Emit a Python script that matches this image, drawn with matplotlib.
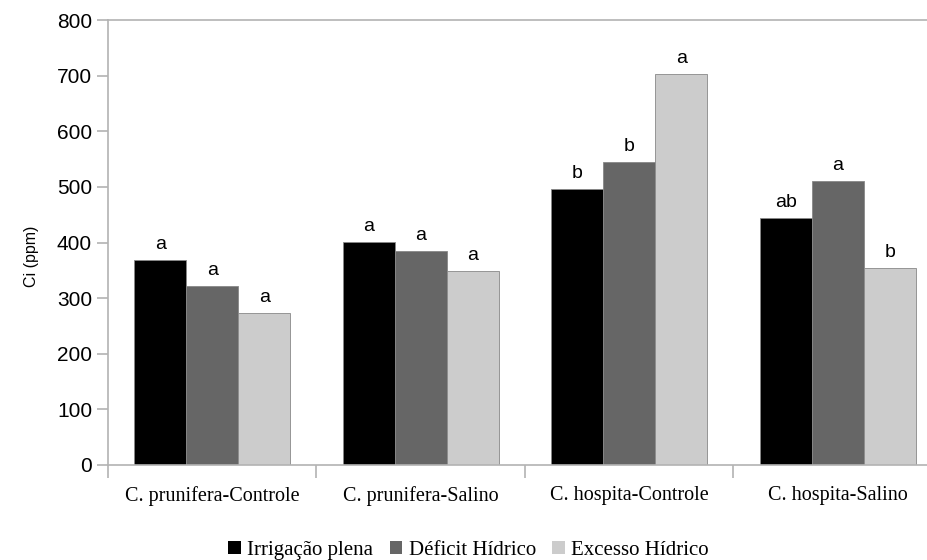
import matplotlib.pyplot as plt
import numpy as np

categorias = ["C. prunifera-Controle", "C. prunifera-Salino", "C. hospita-Controle", "C. hospita-Salino"]
tratamentos = ["Irrigação plena", "Déficit Hídrico", "Excesso Hídrico"]
irrigacao = [369, 401, 496, 444]
deficit = [322, 385, 545, 511]
excesso = [273, 349, 703, 354]
letras_irrigacao = ["a", "a", "b", "ab"]
letras_deficit = ["a", "a", "b", "a"]
letras_excesso = ["a", "a", "a", "b"]

cores = ["#000000", "#666666", "#cccccc"]
series = [irrigacao, deficit, excesso]
letras = [letras_irrigacao, letras_deficit, letras_excesso]

fig = plt.figure(figsize=(9.28, 5.6), dpi=100)
ax = fig.add_axes([108/928, 95/560, 834/928, 445/560])

x = np.arange(len(categorias))
w = 0.249
for i in range(3):
    pos = x + (i - 1) * w
    ax.bar(pos, series[i], w, color=cores[i], edgecolor="#888888", linewidth=0.6,
           label=tratamentos[i], zorder=2)
    for xp, v, t in zip(pos, series[i], letras[i]):
        ax.text(xp, v + 12, t, ha="center", va="bottom", fontsize=14,
                family="Liberation Sans")

ax.set_xlim(-0.5, 3.5)
ax.set_ylim(0, 800)
ax.set_yticks(range(0, 801, 100))
ax.set_xticks(x)
ax.set_xticklabels(categorias, family="Liberation Serif", fontsize=14.5)
ax.set_xticks(np.arange(-0.5, 3.6, 1), minor=True)
ax.tick_params(axis="x", which="major", length=0, pad=15)
ax.tick_params(axis="x", which="minor", length=9, color="#b3b3b3", width=1.2)
ax.tick_params(axis="y", length=8, color="#b3b3b3", width=1.2, labelsize=15)
for lab in ax.get_yticklabels():
    lab.set_family("Liberation Sans")

for s in ax.spines.values():
    s.set_color("#b3b3b3")
    s.set_linewidth(1.2)
ax.spines["right"].set_visible(False)

ax.set_ylabel("Ci (ppm)", family="Liberation Sans", fontsize=11.5)
ax.yaxis.set_label_coords(-0.083, 0.468)

leg = fig.legend(loc="lower center", bbox_to_anchor=(0.505, -0.033), ncol=3, frameon=False,
                 prop={"family": "Liberation Serif", "size": 15},
                 handlelength=0.6, handleheight=0.6, handletextpad=0.3, columnspacing=0.8)
for h in leg.legend_handles:
    h.set_edgecolor("none")

fig.savefig("out.png", dpi=100)
